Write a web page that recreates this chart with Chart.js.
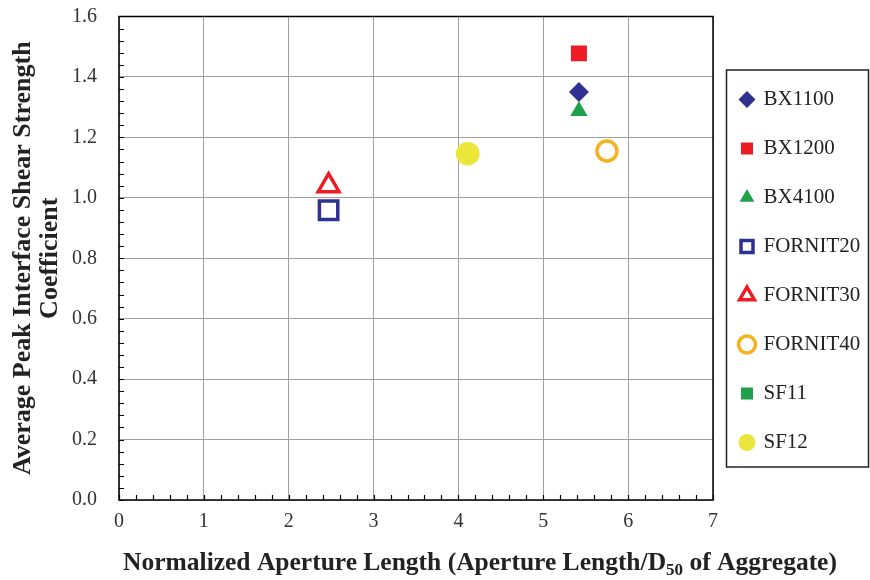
<!DOCTYPE html>
<html>
<head>
<meta charset="utf-8">
<script src="https://cdn.jsdelivr.net/npm/chart.js@4.4.1/dist/chart.umd.min.js"></script>
<style>
  html, body { margin: 0; padding: 0; background: #fff; }
  #wrap { width: 870px; height: 580px; }
</style>
</head>
<body>
<div id="wrap"><canvas id="shearChart" width="870" height="580"></canvas></div>
<script>
// series names and values
const seriesNames = ['BX1100', 'BX1200', 'BX4100', 'FORNIT20', 'FORNIT30', 'FORNIT40', 'SF11', 'SF12'];
const apertureX = [[5.42], [5.42], [5.42], [2.47], [2.47], [5.75], [], [4.11]];
const shearCoef = [[1.35], [1.478], [1.287], [0.959], [1.04], [1.155], [], [1.146]];
const xTicks = [0, 1, 2, 3, 4, 5, 6, 7];
const yTicks = [0, 0.2, 0.4, 0.6, 0.8, 1.0, 1.2, 1.4, 1.6];

const styles = [
  { pointStyle: 'rectRot', color: '#2E3192', fill: true, radius: 10 },
  { pointStyle: 'rect', color: '#ED1C24', fill: true, radius: 11.3 },
  { pointStyle: 'triangle', color: '#1FA04A', fill: true, radius: 10 },
  { pointStyle: 'rect', color: '#2E3192', fill: false, radius: 13 },
  { pointStyle: 'triangle', color: '#ED1C24', fill: false, radius: 12 },
  { pointStyle: 'circle', color: '#F5B21E', fill: false, radius: 10 },
  { pointStyle: 'rect', color: '#1FA04A', fill: true, radius: 10 },
  { pointStyle: 'circle', color: '#EBE63A', fill: true, radius: 11.8 }
];

const datasets = seriesNames.map((name, i) => ({
  label: name,
  data: apertureX[i].map((x, j) => ({ x: x, y: shearCoef[i][j] })),
  pointStyle: styles[i].pointStyle,
  pointRadius: styles[i].radius,
  pointHoverRadius: styles[i].radius,
  backgroundColor: styles[i].fill ? styles[i].color : '#ffffff',
  borderColor: styles[i].color,
  borderWidth: styles[i].fill ? 0 : 3.5,
  pointBorderWidth: styles[i].fill ? 0 : 3.5
}));

const serif = "'Liberation Serif', 'Times New Roman', serif";
const legendShiftY = -5;

// frame, inward ticks, legend box and x title with subscript
const decorations = {
  id: 'decorations',
  afterLayout(chart) {
    chart.legend.top += legendShiftY;
  },
  afterDatasetsDraw(chart) {
    const { ctx, chartArea: a, scales } = chart;
    ctx.save();
    ctx.strokeStyle = '#000';
    ctx.lineWidth = 1.2;
    ctx.beginPath();
    for (let v = 0; v <= 7.0001; v += 0.2) {
      const px = Math.round(scales.x.getPixelForValue(v)) + 0.5;
      ctx.moveTo(px, a.bottom);
      ctx.lineTo(px, a.bottom - 5);
    }
    for (let v = 0; v <= 1.6001; v += 0.04) {
      const py = Math.round(scales.y.getPixelForValue(v)) + 0.5;
      ctx.moveTo(a.left, py);
      ctx.lineTo(a.left + 5, py);
    }
    ctx.stroke();
    ctx.lineWidth = 1.5;
    ctx.strokeRect(a.left, a.top, a.right - a.left, a.bottom - a.top);
    ctx.restore();
  },
  afterDraw(chart) {
    const { ctx, legend } = chart;
    ctx.save();
    // legend border
    const boxes = legend.legendHitBoxes;
    if (boxes && boxes.length) {
      const last = boxes[boxes.length - 1];
      const top = boxes[0].top - 19;
      const bottom = last.top + last.height + 14;
      ctx.strokeStyle = '#222';
      ctx.lineWidth = 1.5;
      ctx.strokeRect(726.5, top, 142, bottom - top);
    }
    // x axis title
    const main1 = 'Normalized Aperture Length (Aperture Length/D';
    const sub = '50';
    const main2 = ' of Aggregate)';
    ctx.fillStyle = '#222';
    ctx.textBaseline = 'alphabetic';
    ctx.font = 'bold 25.5px ' + serif;
    const w1 = ctx.measureText(main1).width;
    const w3 = ctx.measureText(main2).width;
    ctx.font = 'bold 17px ' + serif;
    const w2 = ctx.measureText(sub).width;
    const total = w1 + w2 + w3;
    let x = 480 - total / 2;
    const base = 570;
    ctx.font = 'bold 25.5px ' + serif;
    ctx.fillText(main1, x, base);
    x += w1;
    ctx.font = 'bold 17px ' + serif;
    ctx.fillText(sub, x, base + 5);
    x += w2;
    ctx.font = 'bold 25.5px ' + serif;
    ctx.fillText(main2, x, base);
    ctx.restore();
  }
};

const ctx = document.getElementById('shearChart').getContext('2d');
new Chart(ctx, {
  type: 'scatter',
  data: { datasets: datasets },
  options: {
    responsive: false,
    animation: false,
    layout: { padding: { left: 10, right: 0, top: 15, bottom: 48 } },
    scales: {
      x: {
        type: 'linear',
        min: 0,
        max: 7,
        afterBuildTicks: (scale) => { scale.ticks = xTicks.map(v => ({ value: v })); },
        afterFit: (scale) => {
          scale.height = 32;
          scale.paddingLeft = 0;
          scale.paddingRight = 0;
        },
        ticks: {
          color: '#333',
          font: { family: serif, size: 20 },
          padding: 10,
          maxRotation: 0
        },
        grid: { color: '#A0A0A0', lineWidth: 1, drawTicks: false },
        border: { display: false }
      },
      y: {
        type: 'linear',
        min: 0,
        max: 1.6,
        afterBuildTicks: (scale) => { scale.ticks = yTicks.map(v => ({ value: v })); },
        afterFit: (scale) => {
          scale.width = 109;
          scale.paddingTop = 0;
          scale.paddingBottom = 0;
        },
        ticks: {
          color: '#333',
          font: { family: serif, size: 20 },
          padding: 22,
          callback: (v) => Number(v).toFixed(1)
        },
        grid: { color: '#A0A0A0', lineWidth: 1, drawTicks: false },
        border: { display: false },
        title: {
          display: true,
          text: ['Average Peak Interface Shear Strength', 'Coefficient'],
          color: '#222',
          font: { family: serif, size: 26, weight: 'bold', lineHeight: 1.04 },
          padding: { top: 0, bottom: 0 }
        }
      }
    },
    plugins: {
      legend: {
        position: 'right',
        maxWidth: 157,
        labels: {
          usePointStyle: true,
          boxWidth: 12,
          boxHeight: 12,
          color: '#222',
          font: { family: serif, size: 21 },
          padding: 28
        }
      },
      tooltip: { enabled: false }
    }
  },
  plugins: [decorations]
});
</script>
</body>
</html>
